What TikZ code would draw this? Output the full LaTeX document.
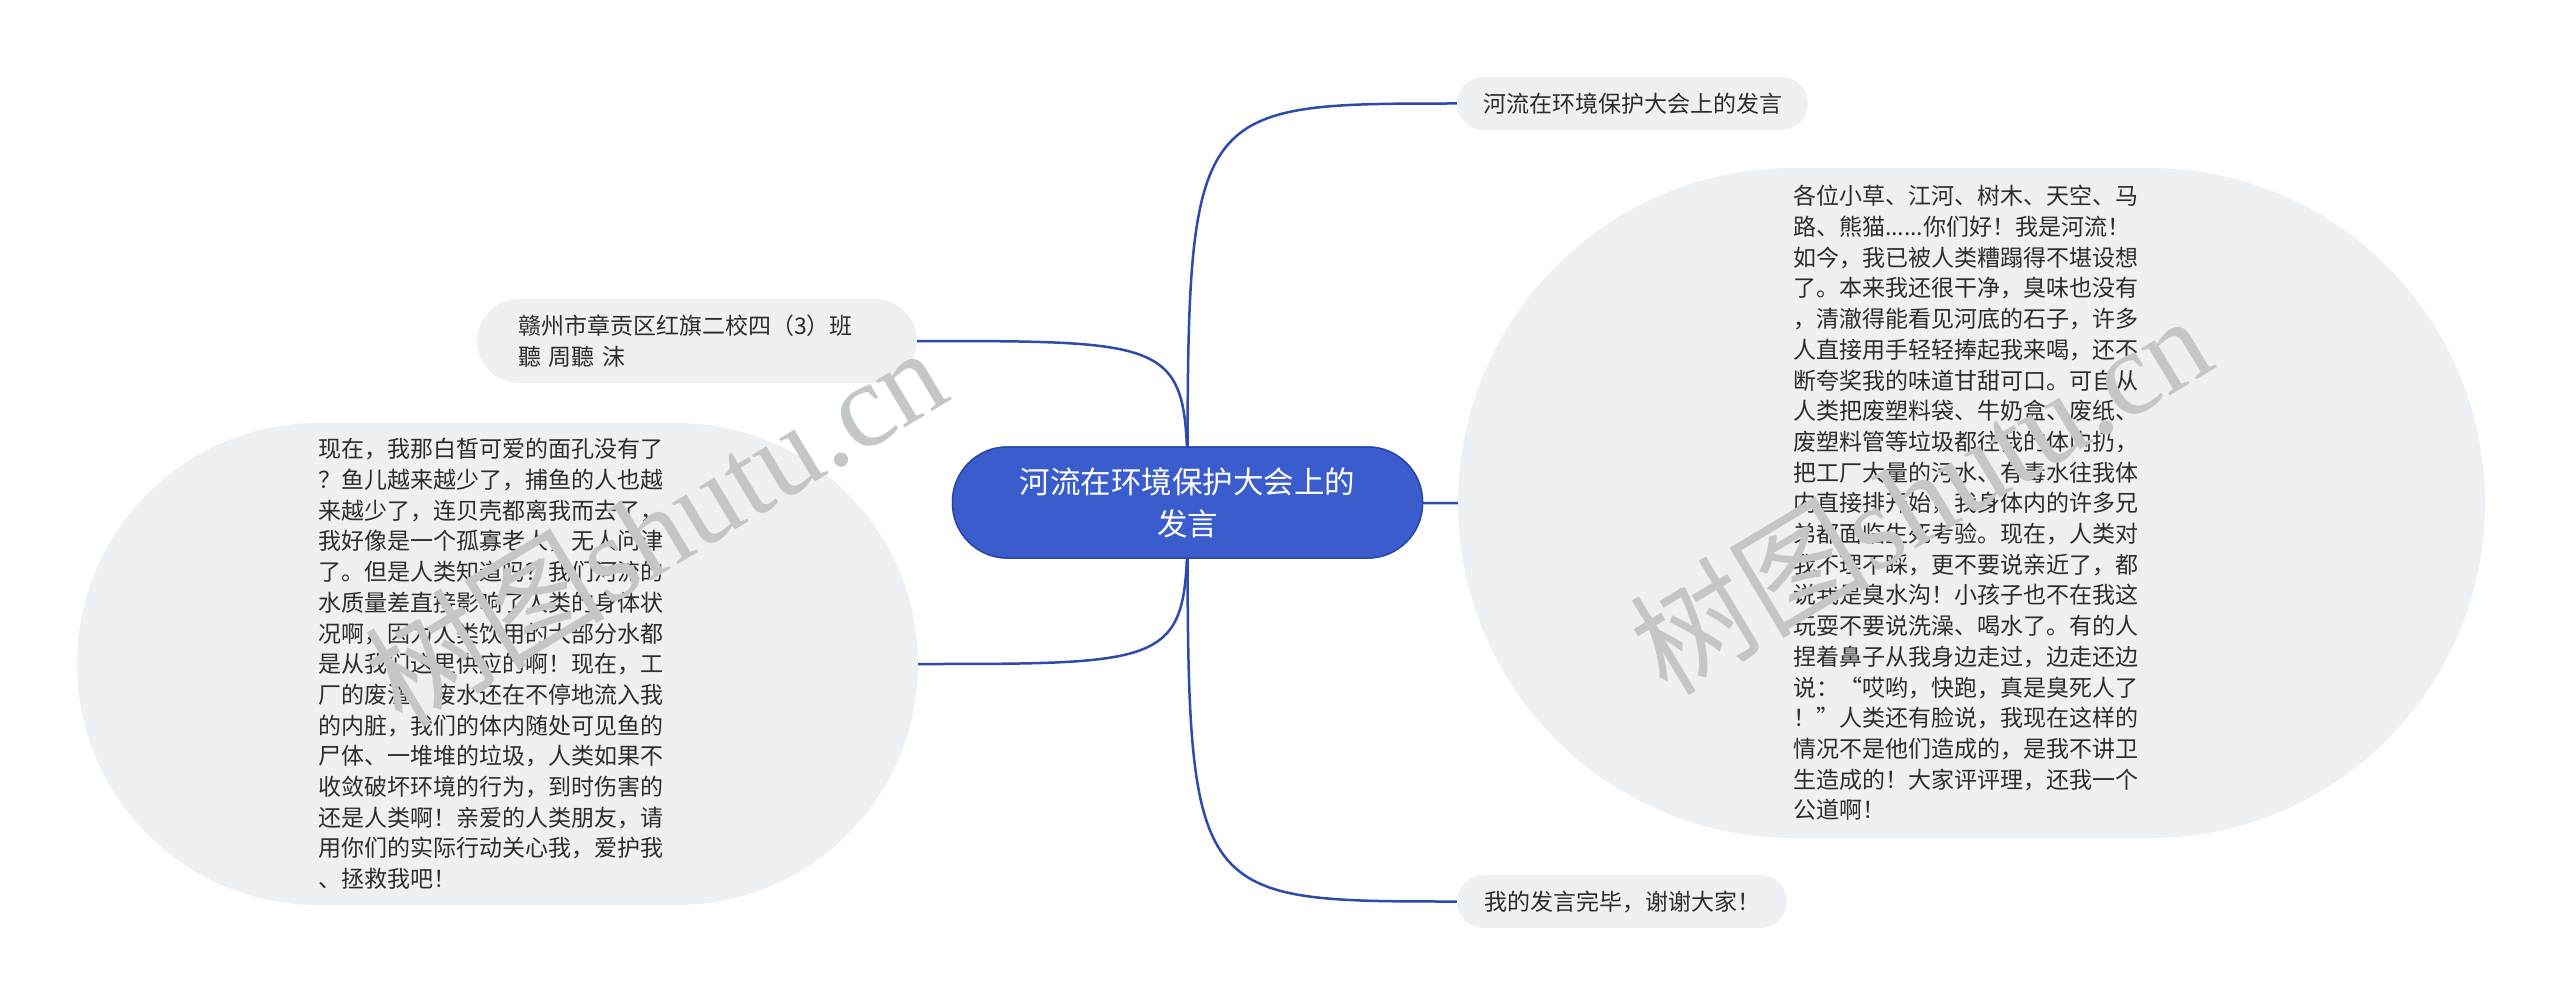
\documentclass[tikz,border=0pt]{standalone}
\usepackage{fontspec}
\setmainfont{Noto Sans CJK SC}
\newfontfamily\wmlatin{Liberation Serif}
\definecolor{mainblue}{RGB}{58,92,205}
\definecolor{mainborder}{RGB}{42,72,172}
\definecolor{linkblue}{RGB}{45,75,170}
\definecolor{nodegray}{RGB}{238,241,244}
\definecolor{txt}{RGB}{45,45,45}
\definecolor{wmgray}{RGB}{196,199,202}
\begin{document}
\begin{tikzpicture}[x=1pt,y=-1pt,
  topic/.style={fill=nodegray, text=txt, inner sep=0pt, font=\fontsize{23pt}{30.7pt}\selectfont},
  central/.style={fill=mainblue, draw=mainborder, line width=1.5pt, text=white, inner sep=0pt,
    minimum width=470pt, minimum height=111pt, rounded corners=55pt, align=center,
    font=\fontsize{30.5pt}{42pt}\selectfont},
  link/.style={draw=linkblue, line width=2.5pt},
  wm/.style={text=wmgray, inner sep=0pt, font=\fontsize{120pt}{120pt}\selectfont}]
\fill[white] (0,0) rectangle (2560,1006);
\useasboundingbox (0,0) rectangle (2560,1006);

% nodes
\node[central] (c) at (1187.5,502.5) {河流在环境保护大会上的\\发言};

\node[topic, minimum width=351pt, minimum height=53pt, rounded corners=26.5pt] (t) at (1632.5,103.5) {河流在环境保护大会上的发言};

\node[topic, minimum width=330pt, minimum height=53pt, rounded corners=26.5pt] (b) at (1622,901.5) {我的发言完毕，谢谢大家！};

\node[topic, minimum width=440pt, minimum height=84pt, rounded corners=42pt,
  text width=358pt, align=left, font=\fontsize{23pt}{31pt}\selectfont] (lt) at (697,341)
  {赣州市章贡区红旗二校四（3）班\\聽 周聽 沫};

\node[topic, minimum width=841pt, minimum height=482pt, rounded corners=241pt,
  text width=359pt, align=left] (l) at (497.5,664)
  {现在，我那白皙可爱的面孔没有了\\
   ？鱼儿越来越少了，捕鱼的人也越\\
   来越少了，连贝壳都离我而去了，\\
   我好像是一个孤寡老人，无人问津\\
   了。但是人类知道吗？我们河流的\\
   水质量差直接影响了人类的身体状\\
   况啊，因为人类饮用的大部分水都\\
   是从我们这里供应的啊！现在，工\\
   厂的废渣、废水还在不停地流入我\\
   的内脏，我们的体内随处可见鱼的\\
   尸体、一堆堆的垃圾，人类如果不\\
   收敛破坏环境的行为，到时伤害的\\
   还是人类啊！亲爱的人类朋友，请\\
   用你们的实际行动关心我，爱护我\\
   、拯救我吧！};

\node[topic, minimum width=1027pt, minimum height=670pt, rounded corners=335pt,
  text width=357pt, align=left] (r) at (1971.5,503)
  {各位小草、江河、树木、天空、马\\
   路、熊猫......你们好！我是河流！\\
   如今，我已被人类糟蹋得不堪设想\\
   了。本来我还很干净，臭味也没有\\
   ，清澈得能看见河底的石子，许多\\
   人直接用手轻轻捧起我来喝，还不\\
   断夸奖我的味道甘甜可口。可自从\\
   人类把废塑料袋、牛奶盒、废纸、\\
   废塑料管等垃圾都往我的体内扔，\\
   把工厂大量的污水、有毒水往我体\\
   内直接排开始，我身体内的许多兄\\
   弟都面临生死考验。现在，人类对\\
   我不理不睬，更不要说亲近了，都\\
   说我是臭水沟！小孩子也不在我这\\
   玩耍不要说洗澡、喝水了。有的人\\
   捏着鼻子从我身边走过，边走还边\\
   说：“哎哟，快跑，真是臭死人了\\
   ！”人类还有脸说，我现在这样的\\
   情况不是他们造成的，是我不讲卫\\
   生造成的！大家评评理，还我一个\\
   公道啊！};

% connectors from the central topic
\path[link] (c.center) .. controls (c.center |- t.west) .. (t.west);
\path[link] (c.center) .. controls (c.center |- r.west) .. (r.west);
\path[link] (c.center) .. controls (c.center |- b.west) .. (b.west);
\path[link] (c.center) .. controls (c.center |- lt.east) .. (lt.east);
\path[link] (c.center) .. controls (c.center |- l.east) .. (l.east);

% central node again, on top of the connector starts
\node[central] (c2) at (c) {河流在环境保护大会上的\\发言};

% watermarks
\node[wm, rotate=31] (wm1) at (655,525) {树图{\wmlatin shutu.cn}};
\node[wm, rotate=31] (wm2) at (1920,493) {树图{\wmlatin shutu.cn}};
\end{tikzpicture}
\end{document}
